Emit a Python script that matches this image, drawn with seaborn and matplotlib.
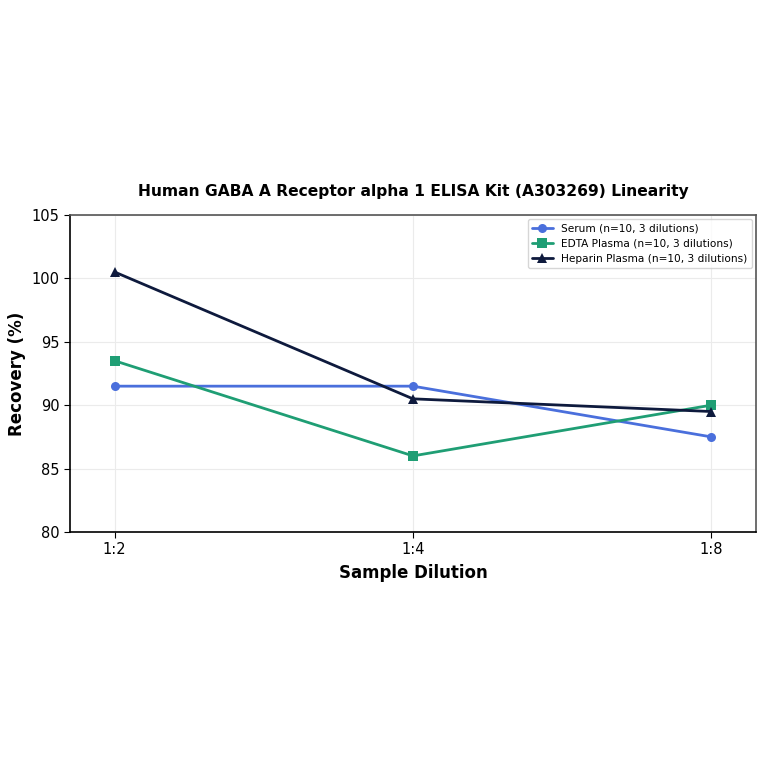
import pandas as pd
import matplotlib.pyplot as plt
import seaborn as sns

dilutions = ["1:2", "1:4", "1:8"]
serum = [91.5, 91.5, 87.5]
edta = [93.5, 86.0, 90.0]
heparin = [100.5, 90.5, 89.5]
labels = ["Serum (n=10, 3 dilutions)",
          "EDTA Plasma (n=10, 3 dilutions)",
          "Heparin Plasma (n=10, 3 dilutions)"]
colors = ["#4a6fdc", "#1f9e74", "#0e1a3d"]
markers = ["o", "s", "^"]

sns.set_style("white")
plt.rcParams['font.family'] = ['DejaVu Sans']
plt.rcParams['text.color'] = 'black'
plt.rcParams['axes.labelcolor'] = 'black'
plt.rcParams['xtick.color'] = 'black'
plt.rcParams['ytick.color'] = 'black'

fig = plt.figure(figsize=[7.64, 7.64], dpi=100)
ax = fig.add_axes([0.0916, 0.3037, 0.8979, 0.4149])

for vals, lab, col, mk in zip([serum, edta, heparin], labels, colors, markers):
    df = pd.DataFrame({"x": range(len(dilutions)), "y": vals})
    sns.lineplot(data=df, x="x", y="y", ax=ax, color=col, marker=mk,
                 markersize=6.5, linewidth=2, markeredgewidth=0, label=lab)

ax.set_xticks(range(len(dilutions)))
ax.set_xticklabels(dilutions)
ax.set_xlim(-0.15, 2.15)
ax.set_ylim(80, 105)
ax.set_yticks([80, 85, 90, 95, 100, 105])
ax.grid(True, color="#ebebeb", linewidth=0.8)
ax.tick_params(axis="both", labelsize=10.5, length=4, color="black", left=True, bottom=True)
for s in ["left", "bottom"]:
    ax.spines[s].set_color("black")
    ax.spines[s].set_linewidth(1.2)
for s in ["top", "right"]:
    ax.spines[s].set_color("#555555")
    ax.spines[s].set_linewidth(1.2)

ax.set_xlabel("Sample Dilution", fontsize=12, fontweight="bold", labelpad=5)
ax.set_ylabel("Recovery (%)", fontsize=12, fontweight="bold")
ax.set_title("Human GABA A Receptor alpha 1 ELISA Kit (A303269) Linearity",
             fontsize=11.2, fontweight="bold", pad=14, color="black")
ax.legend(loc="upper right", fontsize=7.6, frameon=True, borderaxespad=0.4)

plt.savefig("out.png", dpi=100)
